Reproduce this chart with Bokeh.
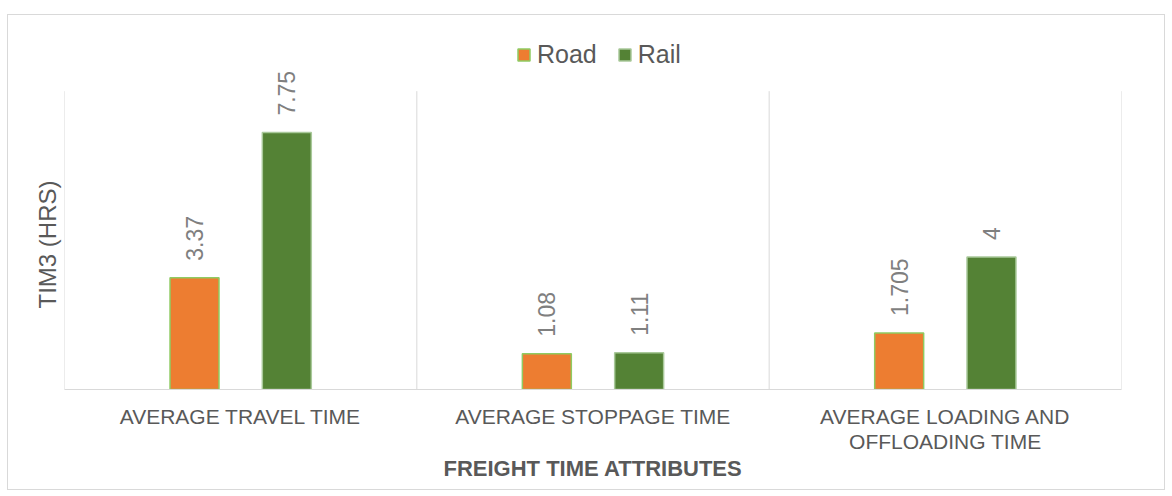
from bokeh.plotting import figure
from bokeh.models import (ColumnDataSource, Range1d, FixedTicker, Legend, LegendItem,
                          Title)
from bokeh.core.properties import value
from bokeh.embed import file_html
from bokeh.resources import INLINE

categories = ["AVERAGE TRAVEL TIME", "AVERAGE STOPPAGE TIME",
              "AVERAGE LOADING AND\nOFFLOADING TIME"]
road = [3.37, 1.08, 1.705]
rail = [7.75, 1.11, 4]
series_names = ["Road", "Rail"]

Y_MAX = 9          # top of the value axis
Y_VIEW = 10.8      # extra headroom above the axis for legend and labels

FONT = "Liberation Sans"
ROAD_FILL, ROAD_LINE = "#ED7D31", "#8FCB62"
RAIL_FILL, RAIL_LINE = "#548235", "#A9C99A"
GRID = "#D9D9D9"
TEXT = "#595959"

n = len(categories)
centers = [i + 0.5 for i in range(n)]
shift = 0.131
bar_w = 0.139

road_src = ColumnDataSource(dict(
    x=[c - shift for c in centers], top=road,
    label=[f"{v:g}" for v in road]))
rail_src = ColumnDataSource(dict(
    x=[c + shift for c in centers], top=rail,
    label=[f"{v:g}" for v in rail]))

p = figure(width=1158, height=476, output_backend="svg", toolbar_location=None,
           x_range=Range1d(0, n), y_range=Range1d(0, Y_VIEW),
           min_border_left=56, min_border_right=45, min_border_top=16,
           min_border_bottom=102, outline_line_color=None,
           margin=(14, 0, 0, 7),
           styles={"border": "1px solid #D9D9D9"})
p.xgrid.grid_line_color = None
p.ygrid.grid_line_color = None

# vertical separators between categories, spanning the value axis
bounds = list(range(n + 1))
p.segment(x0=bounds, y0=[0] * len(bounds), x1=bounds, y1=[Y_MAX] * len(bounds),
          line_color=GRID, line_width=1)

r_road = p.vbar(x="x", top="top", width=bar_w, source=road_src,
                fill_color=ROAD_FILL, line_color=ROAD_LINE, line_width=1.5)
r_rail = p.vbar(x="x", top="top", width=bar_w, source=rail_src,
                fill_color=RAIL_FILL, line_color=RAIL_LINE, line_width=1.5)

for src in (road_src, rail_src):
    p.text(x="x", y="top", text="label", source=src, angle=1.5708,
           text_align="left", text_baseline="middle", y_offset=-17,
           text_font=value(FONT), text_font_size="23px", text_color="#7F7F7F")

xa = p.xaxis[0]
xa.ticker = FixedTicker(ticks=centers)
xa.major_label_overrides = {c: cat for c, cat in zip(centers, categories)}
xa.major_tick_line_color = None
xa.minor_tick_line_color = None
xa.axis_line_color = GRID
xa.major_label_text_font = FONT
xa.major_label_text_font_size = "21px"
xa.major_label_text_line_height = 1.1
xa.major_label_text_color = TEXT
xa.major_label_standoff = 9
xa.axis_label = "FREIGHT TIME ATTRIBUTES"
xa.axis_label_text_font = FONT
xa.axis_label_text_font_size = "22px"
xa.axis_label_text_font_style = "bold"
xa.axis_label_text_color = TEXT
xa.axis_label_standoff = 0

ya = p.yaxis[0]
ya.ticker = FixedTicker(ticks=[])
ya.axis_line_color = None
ya.major_tick_line_color = None
ya.minor_tick_line_color = None

# value-axis title, placed along the value axis rather than the whole frame
p.add_layout(Title(text="TIM3 (HRS)", align="left", offset=81,
                   text_font=FONT, text_font_size="24px",
                   text_font_style="normal", text_color=TEXT, standoff=7), "left")

legend = Legend(items=[LegendItem(label=series_names[0], renderers=[r_road]),
                       LegendItem(label=series_names[1], renderers=[r_rail])],
                orientation="horizontal", location=(452, 320),
                label_text_font=FONT, label_text_font_size="25px",
                label_text_color=TEXT, glyph_width=15, glyph_height=15,
                label_standoff=6, spacing=20, padding=0, margin=0,
                border_line_color=None, background_fill_alpha=0)
p.add_layout(legend, "center")

open("out.html", "w").write(file_html(p, INLINE))
